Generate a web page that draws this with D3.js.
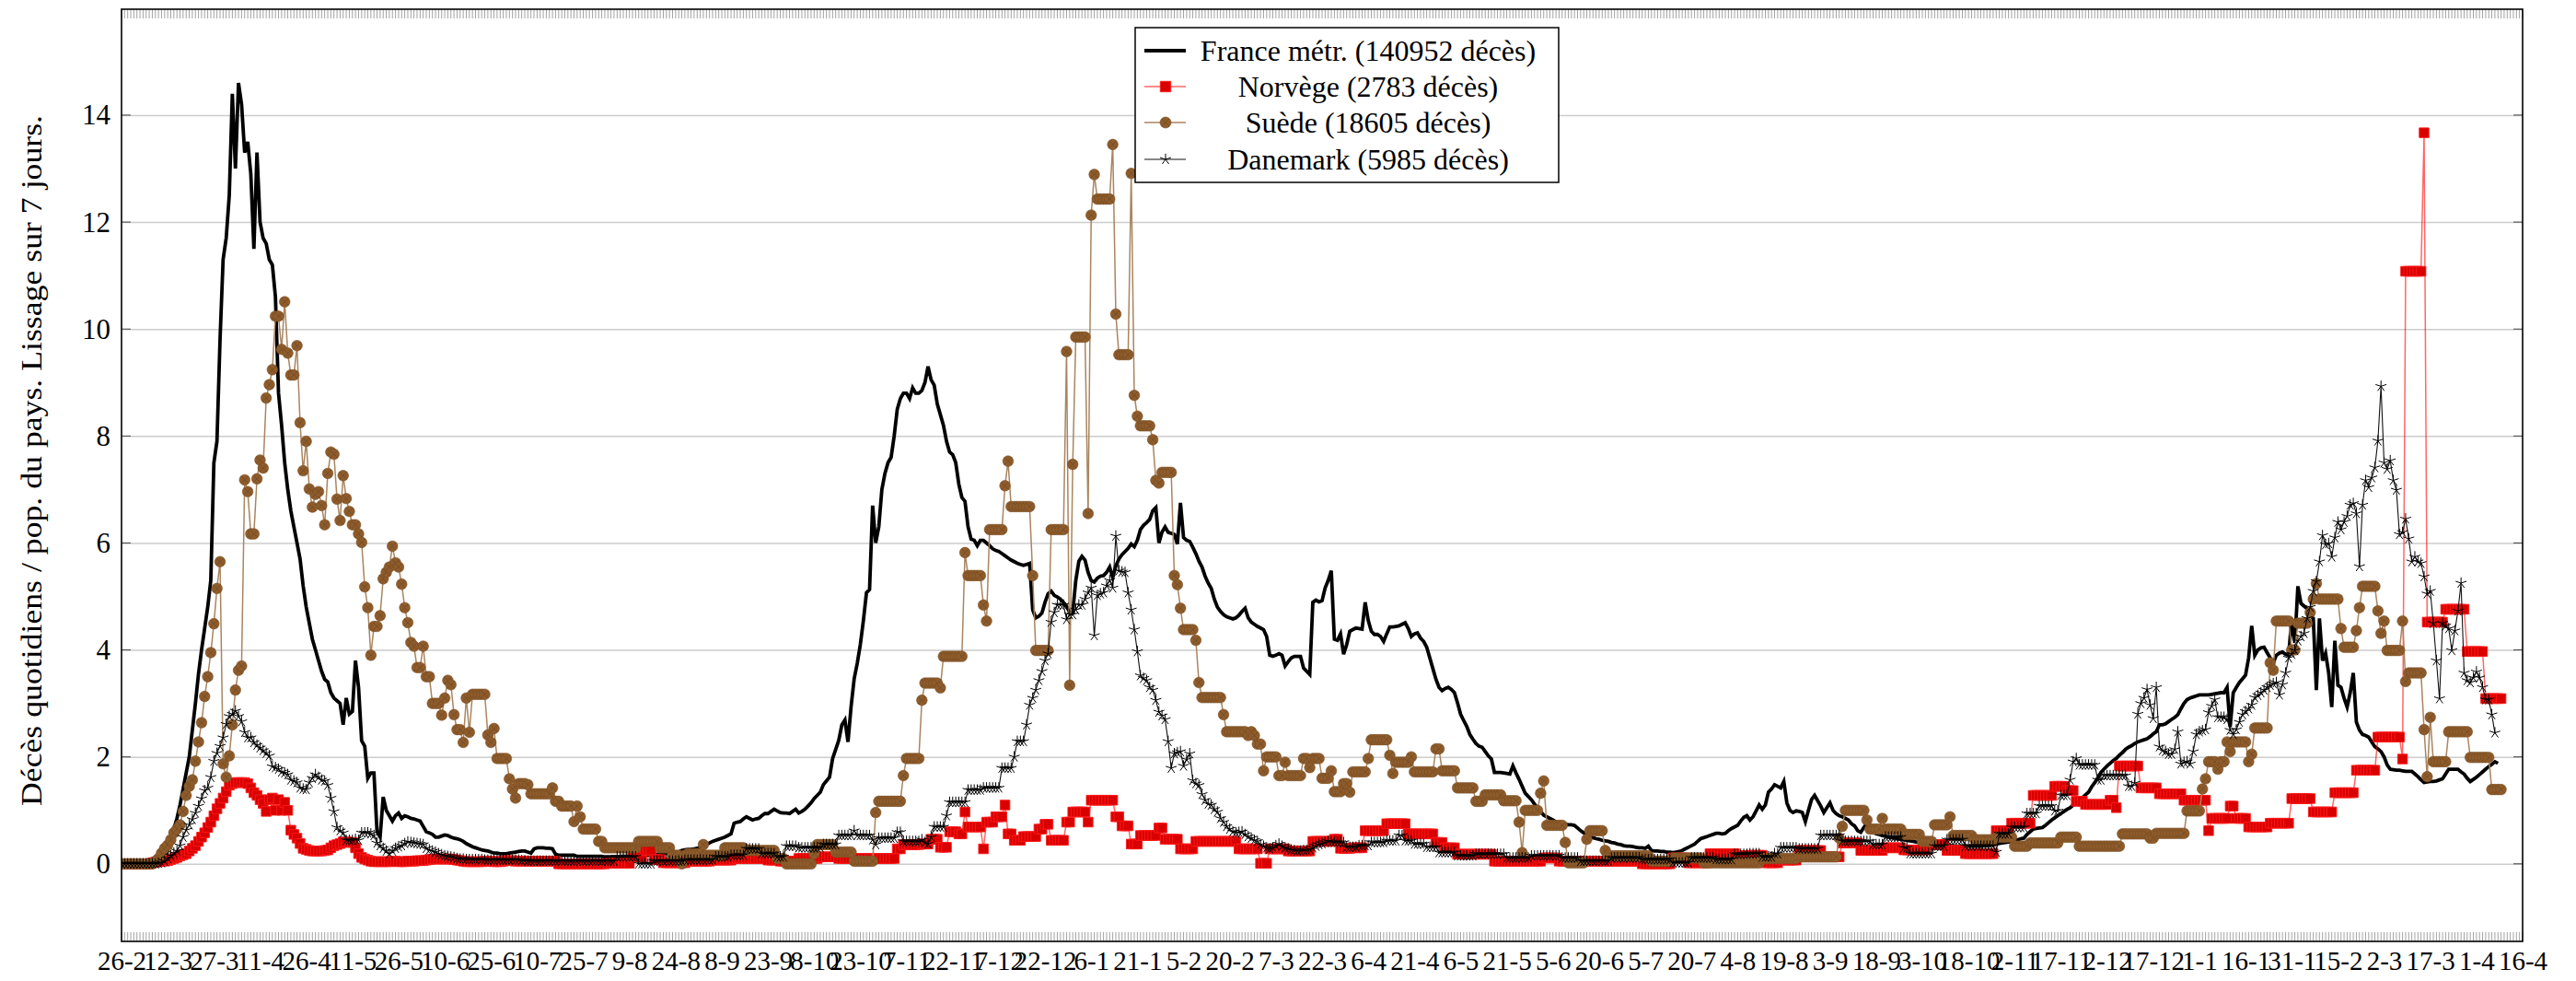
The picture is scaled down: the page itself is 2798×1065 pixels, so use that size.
<!DOCTYPE html>
<html>
<head>
<meta charset="utf-8">
<script src="https://cdn.jsdelivr.net/npm/d3@7"></script>
<style>
  html, body { margin: 0; padding: 0; background: #fff; }
  svg { display: block; font-family: "Liberation Serif", "Times New Roman", serif; }
</style>
</head>
<body>
<svg id="chart" width="2798" height="1065"></svg>
<script>
// x tick labels, one every 15 days starting 26-2-2020
const xLabels = ["26-2","12-3","27-3","11-4","26-4","11-5","26-5","10-6","25-6","10-7","25-7","9-8","24-8","8-9","23-9","8-10","23-10","7-11","22-11","7-12","22-12","6-1","21-1","5-2","20-2","7-3","22-3","6-4","21-4","6-5","21-5","5-6","20-6","5-7","20-7","4-8","19-8","3-9","18-9","3-10","18-10","2-11","17-11","2-12","17-12","1-1","16-1","31-1","15-2","2-3","17-3","1-4","16-4"];
const yTicks = [0, 2, 4, 6, 8, 10, 12, 14];

// daily deaths per million, 7-day smoothing, one value per day from 26-2-2020
const france = [
0,0,0,0,0,0,0,0.01,0.01,0.01,
0.01,0.02,0.03,0.05,0.08,0.25,0.45,0.65,0.85,1.1,
1.4,1.7,2.0,2.5,3.0,3.55,4.0,4.4,4.8,5.3,
7.5,7.9,9.8,11.3,11.7,12.5,14.4,13.0,14.6,14.2,
13.3,13.5,12.9,11.5,13.3,12.0,11.7,11.6,11.3,11.2,
10.6,8.8,8.2,7.5,7.0,6.6,6.3,6.0,5.7,5.2,
4.8,4.5,4.2,4.0,3.8,3.6,3.45,3.4,3.2,3.1,
3.05,3.0,2.6,3.1,2.8,2.85,3.8,3.3,2.3,2.2,
1.6,1.7,1.7,0.6,0.5,1.25,1.0,0.9,0.8,0.9,
0.95,0.85,0.9,0.88,0.85,0.84,0.82,0.8,0.7,0.6,
0.58,0.55,0.5,0.5,0.52,0.54,0.53,0.5,0.48,0.47,
0.45,0.42,0.38,0.35,0.32,0.3,0.28,0.26,0.25,0.24,
0.22,0.2,0.2,0.19,0.19,0.19,0.2,0.21,0.22,0.23,
0.24,0.24,0.22,0.2,0.28,0.3,0.3,0.3,0.29,0.29,
0.28,0.18,0.16,0.16,0.16,0.16,0.16,0.16,0.14,0.14,
0.14,0.14,0.14,0.14,0.14,0.14,0.14,0.13,0.13,0.13,
0.13,0.13,0.14,0.14,0.14,0.14,0.15,0.15,0.15,0.15,
0.16,0.16,0.17,0.17,0.18,0.18,0.19,0.19,0.2,0.21,
0.22,0.22,0.25,0.26,0.27,0.27,0.28,0.29,0.3,0.33,
0.36,0.39,0.42,0.44,0.46,0.48,0.5,0.53,0.56,0.76,
0.78,0.79,0.84,0.88,0.85,0.82,0.84,0.85,0.9,0.94,
0.94,0.98,1.02,0.99,0.96,0.95,0.95,0.94,0.98,1.02,
0.95,0.98,1.02,1.08,1.14,1.22,1.28,1.34,1.48,1.55,
1.62,1.97,2.14,2.31,2.6,2.69,2.28,2.94,3.46,3.75,
4.1,4.55,5.07,5.13,6.7,6.0,6.3,7.0,7.3,7.5,
7.6,8.0,8.5,8.7,8.8,8.8,8.7,8.9,8.8,8.8,
8.85,9.0,9.3,9.05,8.95,8.6,8.4,8.2,7.9,7.7,
7.65,7.5,7.1,6.85,6.78,6.3,6.07,6.05,5.95,6.05,
6.05,6.0,5.95,5.89,5.86,5.84,5.8,5.76,5.72,5.68,
5.65,5.62,5.6,5.58,5.6,5.62,4.75,4.6,4.63,4.69,
4.89,5.05,5.1,5.02,4.99,4.95,4.89,4.82,4.7,4.7,
5.3,5.66,5.75,5.68,5.45,5.3,5.27,5.34,5.38,5.39,
5.45,5.55,5.35,5.57,5.7,5.78,5.84,5.9,5.98,5.93,
6.05,6.25,6.33,6.38,6.44,6.6,6.66,6.0,6.2,6.3,
6.2,6.18,6.16,5.98,6.75,6.1,6.05,6.03,5.92,5.8,
5.66,5.55,5.38,5.25,5.15,4.95,4.8,4.72,4.66,4.62,
4.6,4.58,4.6,4.65,4.72,4.78,4.6,4.52,4.48,4.44,
4.41,4.38,4.25,3.9,3.88,3.9,3.93,3.9,3.7,3.78,
3.85,3.88,3.88,3.88,3.66,3.6,3.54,4.89,4.93,4.9,
4.92,5.16,5.3,5.48,4.2,4.18,4.3,3.92,4.1,4.35,
4.38,4.41,4.4,4.39,4.89,4.55,4.35,4.29,4.29,4.25,
4.16,4.3,4.43,4.43,4.44,4.45,4.48,4.51,4.4,4.25,
4.3,4.32,4.22,4.16,4.05,3.85,3.65,3.45,3.3,3.24,
3.28,3.3,3.26,3.2,3.01,2.8,2.68,2.57,2.42,2.33,
2.25,2.2,2.18,2.1,2.02,1.96,1.71,1.71,1.71,1.7,
1.69,1.68,1.83,1.7,1.58,1.45,1.32,1.26,1.2,1.12,
1.04,0.98,0.91,0.88,0.85,0.82,0.78,0.76,0.75,0.74,
0.73,0.73,0.72,0.67,0.62,0.58,0.54,0.5,0.49,0.47,
0.46,0.44,0.43,0.42,0.4,0.39,0.37,0.36,0.34,0.33,
0.33,0.32,0.31,0.3,0.3,0.29,0.33,0.25,0.24,0.24,
0.23,0.23,0.22,0.22,0.21,0.22,0.23,0.25,0.28,0.31,
0.34,0.37,0.42,0.47,0.49,0.51,0.53,0.55,0.57,0.57,
0.56,0.57,0.62,0.66,0.69,0.72,0.8,0.87,0.9,0.82,
0.88,0.99,1.1,1.02,1.1,1.34,1.4,1.48,1.45,1.42,
1.54,1.14,1.0,0.96,0.99,0.98,0.96,0.79,1.0,1.2,
1.28,1.18,1.08,0.96,1.05,1.14,1.0,0.94,0.9,0.88,
0.85,0.82,0.75,0.71,0.62,0.59,0.68,0.76,0.66,0.6,
0.56,0.55,0.53,0.52,0.5,0.49,0.48,0.47,0.46,0.45,
0.44,0.43,0.42,0.41,0.4,0.4,0.39,0.38,0.37,0.36,
0.36,0.35,0.35,0.34,0.34,0.34,0.33,0.33,0.33,0.33,
0.33,0.33,0.33,0.33,0.33,0.34,0.34,0.35,0.36,0.37,
0.38,0.39,0.4,0.41,0.42,0.44,0.45,0.47,0.48,0.55,
0.6,0.65,0.66,0.67,0.68,0.72,0.77,0.82,0.86,0.9,
0.94,0.98,1.02,1.05,1.1,1.15,1.19,1.24,1.29,1.34,
1.44,1.52,1.6,1.71,1.77,1.83,1.88,1.93,1.97,2.03,
2.08,2.14,2.18,2.21,2.25,2.28,2.3,2.32,2.34,2.38,
2.43,2.47,2.6,2.6,2.62,2.66,2.7,2.74,2.79,2.9,
3.0,3.07,3.1,3.12,3.14,3.16,3.16,3.16,3.16,3.17,
3.18,3.19,3.2,3.2,3.3,2.56,3.2,3.3,3.39,3.46,
3.53,3.85,4.45,3.9,4.0,4.04,4.05,3.95,3.85,3.76,
3.9,3.94,3.96,3.92,3.9,4.59,4.13,5.19,4.87,4.82,
4.77,4.65,4.59,3.25,4.59,3.8,3.94,3.57,2.93,4.17,
3.34,3.3,3.1,2.93,3.2,3.57,2.65,2.5,2.42,2.4,
2.37,2.28,2.19,2.15,2.1,2.0,1.85,1.77,1.76,1.75,
1.75,1.74,1.73,1.73,1.73,1.68,1.63,1.57,1.52,1.53,
1.54,1.54,1.55,1.57,1.59,1.68,1.77,1.77,1.77,1.77,
1.72,1.68,1.6,1.54,1.58,1.62,1.67,1.72,1.77,1.82,
1.86,1.91,1.88
];

const norvege = [
0,0,0,0,0,0,0,0,0,0,
0.02,0.03,0.04,0.05,0.05,0.06,0.08,0.1,0.12,0.15,
0.17,0.19,0.24,0.29,0.34,0.42,0.5,0.58,0.68,0.78,
0.9,1.03,1.13,1.23,1.35,1.47,1.5,1.52,1.52,1.52,
1.52,1.5,1.42,1.33,1.28,1.2,1.13,0.98,1.2,1.23,
1.0,1.2,1.0,1.15,1.0,0.63,0.55,0.48,0.38,0.29,
0.27,0.25,0.24,0.24,0.24,0.24,0.25,0.26,0.3,0.34,
0.36,0.38,0.41,0.41,0.4,0.4,0.3,0.19,0.12,0.09,
0.07,0.05,0.04,0.04,0.04,0.04,0.04,0.04,0.05,0.05,
0.04,0.04,0.04,0.05,0.05,0.05,0.06,0.06,0.06,0.07,
0.08,0.09,0.09,0.09,0.09,0.09,0.09,0.09,0.08,0.07,
0.06,0.05,0.04,0.04,0.04,0.04,0.04,0.04,0.05,0.05,
0.05,0.04,0.04,0.04,0.05,0.06,0.06,0.06,0.05,0.05,
0.05,0.05,0.05,0.05,0.05,0.05,0.05,0.05,0.05,0.05,
0.05,0.05,0,0,0,0,0,0,0,0,
0,0,0,0,0,0,0,0,0.01,0.01,
0.01,0.01,0.01,0.01,0.01,0.01,0.13,0.13,0.13,0.13,
0.25,0.25,0.25,0.08,0.08,0.08,0.02,0.02,0.02,0.02,
0.02,0.02,0.02,0.02,0.05,0.05,0.05,0.05,0.05,0.05,
0.05,0.05,0.07,0.07,0.07,0.07,0.07,0.07,0.07,0.1,
0.1,0.1,0.1,0.1,0.1,0.1,0.1,0.1,0.1,0.1,
0.07,0.07,0.07,0.07,0.05,0.05,0.05,0.05,0.05,0.05,
0.1,0.1,0.1,0.1,0.1,0.1,0.1,0.13,0.13,0.13,
0.13,0.13,0.13,0.1,0.1,0.1,0.1,0.1,0.1,0.1,
0.1,0.1,0.1,0.1,0.1,0.1,0.1,0.1,0.1,0.1,
0.1,0.1,0.28,0.28,0.36,0.36,0.36,0.36,0.36,0.36,
0.37,0.37,0.37,0.46,0.46,0.46,0.31,0.31,0.31,0.6,
0.6,0.6,0.56,0.56,0.97,0.69,0.69,0.69,0.69,0.69,
0.28,0.78,0.78,0.78,0.88,0.88,0.88,1.1,0.56,0.56,
0.44,0.44,0.44,0.51,0.51,0.51,0.51,0.51,0.65,0.65,
0.74,0.74,0.44,0.44,0.44,0.44,0.44,0.78,0.78,0.97,
0.97,0.97,0.97,0.97,0.78,1.19,1.19,1.19,1.19,1.19,
1.19,1.19,1.19,0.88,0.88,0.71,0.71,0.71,0.37,0.37,
0.37,0.53,0.53,0.53,0.53,0.53,0.53,0.67,0.67,0.46,
0.46,0.46,0.46,0.46,0.28,0.28,0.28,0.28,0.28,0.42,
0.42,0.42,0.42,0.42,0.42,0.42,0.42,0.42,0.42,0.42,
0.42,0.42,0.42,0.28,0.28,0.28,0.28,0.28,0.28,0.28,
0.01,0.01,0.01,0.28,0.28,0.28,0.28,0.28,0.28,0.24,
0.24,0.24,0.24,0.24,0.24,0.24,0.24,0.42,0.42,0.42,
0.42,0.42,0.42,0.42,0.46,0.46,0.29,0.29,0.29,0.29,
0.3,0.3,0.3,0.3,0.62,0.62,0.62,0.62,0.62,0.62,
0.62,0.75,0.75,0.75,0.75,0.75,0.75,0.75,0.56,0.56,
0.56,0.56,0.56,0.56,0.56,0.56,0.56,0.4,0.4,0.4,
0.3,0.3,0.3,0.3,0.18,0.18,0.18,0.18,0.18,0.18,
0.18,0.18,0.18,0.18,0.18,0.18,0.05,0.05,0.05,0.05,
0.05,0.05,0.05,0.05,0.05,0.05,0.05,0.05,0.05,0.05,
0.05,0.05,0.11,0.11,0.11,0.11,0.11,0.05,0.05,0.05,
0.05,0.05,0.05,0.05,0.05,0.05,0.05,0.05,0.05,0.05,
0.05,0.05,0.05,0.05,0.05,0.05,0.05,0.05,0.05,0.05,
0.05,0.05,0.05,0.05,0,0,0,0,0,0,
0,0,0,0,0.11,0.11,0.11,0.11,0.11,0.02,
0.02,0.02,0.02,0.02,0.02,0.02,0.19,0.19,0.19,0.19,
0.19,0.19,0.19,0.19,0.19,0.15,0.15,0.15,0.15,0.16,
0.16,0.16,0.16,0.16,0.02,0.02,0.02,0.02,0.02,0.07,
0.07,0.07,0.07,0.07,0.07,0.25,0.25,0.25,0.25,0.25,
0.25,0.25,0.25,0.13,0.13,0.13,0.13,0.13,0.13,0.39,
0.39,0.39,0.39,0.39,0.39,0.25,0.25,0.25,0.25,0.25,
0.25,0.25,0.25,0.3,0.3,0.3,0.3,0.3,0.3,0.26,
0.26,0.26,0.26,0.26,0.26,0.26,0.26,0.36,0.36,0.36,
0.36,0.36,0.36,0.25,0.25,0.25,0.25,0.25,0.25,0.19,
0.19,0.19,0.19,0.19,0.19,0.19,0.19,0.19,0.19,0.62,
0.62,0.62,0.62,0.62,0.76,0.76,0.76,0.76,0.76,0.76,
0.76,1.28,1.28,1.28,1.28,1.28,1.28,1.28,1.45,1.45,
1.45,1.45,1.37,1.37,1.37,1.17,1.17,1.17,1.11,1.11,
1.11,1.11,1.11,1.11,1.11,1.11,1.19,1.19,1.05,1.83,
1.83,1.83,1.83,1.83,1.83,1.83,1.42,1.42,1.42,1.42,
1.42,1.42,1.31,1.31,1.31,1.31,1.31,1.31,1.31,1.31,
1.19,1.19,1.19,1.19,1.19,1.19,1.19,1.19,0.62,0.85,
0.85,0.85,0.85,0.85,0.85,1.08,1.08,0.85,0.85,0.85,
0.85,0.69,0.69,0.69,0.69,0.69,0.69,0.69,0.76,0.76,
0.76,0.76,0.76,0.76,0.76,1.22,1.22,1.22,1.22,1.22,
1.22,1.22,0.97,0.97,0.97,0.97,0.97,0.97,0.97,1.33,
1.33,1.33,1.33,1.33,1.33,1.33,1.75,1.75,1.75,1.75,
1.75,1.75,1.75,2.37,2.37,2.37,2.37,2.37,2.37,2.37,
2.37,1.96,11.08,11.08,11.08,11.08,11.08,11.08,13.67,4.52,
4.52,4.52,4.52,4.52,4.52,4.76,4.76,4.76,4.76,4.76,
4.76,4.76,3.97,3.97,3.97,3.97,3.97,3.97,3.09,3.09,
3.09,3.09,3.09,3.09
];

const suede = [
0,0,0,0,0,0,0,0,0,0,
0,0.05,0.1,0.2,0.29,0.35,0.45,0.58,0.65,0.73,
0.98,1.28,1.45,1.57,1.92,2.28,2.64,3.13,3.5,3.95,
4.49,5.15,5.65,1.87,1.62,2.02,2.6,3.25,3.62,3.7,
7.18,6.96,6.17,6.17,7.2,7.55,7.4,8.71,8.96,9.24,
10.24,10.24,9.62,10.51,9.55,9.14,9.14,9.69,8.25,7.35,
7.9,7.01,6.67,6.91,6.96,6.7,6.34,7.3,7.7,7.66,
6.82,6.42,7.26,6.83,6.59,6.34,6.34,6.17,6.01,5.18,
4.79,3.9,4.44,4.44,4.64,5.33,5.45,5.55,5.94,5.63,
5.55,5.23,4.79,4.51,4.14,4.07,3.67,3.67,4.07,3.5,
3.5,3.0,3.0,3.0,2.78,3.1,3.43,3.35,2.79,2.51,
2.51,2.27,3.1,2.46,3.17,3.17,3.17,3.17,3.17,2.41,
2.27,2.53,1.97,1.97,1.97,1.97,1.59,1.4,1.23,1.5,
1.5,1.5,1.48,1.31,1.31,1.31,1.31,1.31,1.31,1.31,
1.42,1.17,1.17,1.08,1.08,1.08,1.08,0.79,1.08,0.88,
0.65,0.65,0.65,0.65,0.65,0.42,0.42,0.3,0.3,0.3,
0.3,0.3,0.3,0.3,0.3,0.3,0.3,0.3,0.42,0.42,
0.42,0.42,0.42,0.42,0.42,0.3,0.3,0.3,0.3,0.16,
0.16,0.16,0,0.16,0.19,0.19,0.19,0.19,0.19,0.36,
0.16,0.16,0.16,0.16,0.16,0.16,0.3,0.3,0.3,0.3,
0.3,0.3,0.3,0.25,0.25,0.25,0.25,0.25,0.25,0.25,
0.25,0.25,0.25,0.1,0.1,0.1,0,0,0,0,
0,0,0,0,0,0.19,0.36,0.36,0.36,0.36,
0.36,0.36,0.22,0.22,0.22,0.22,0.22,0.22,0.05,0.05,
0.05,0.05,0.05,0.05,0.05,0.96,1.17,1.17,1.17,1.17,
1.17,1.17,1.17,1.17,1.65,1.97,1.97,1.97,1.97,1.97,
3.06,3.38,3.38,3.38,3.38,3.38,3.29,3.88,3.88,3.88,
3.88,3.88,3.88,3.88,5.82,5.39,5.39,5.39,5.39,5.39,
4.84,4.54,6.25,6.25,6.25,6.25,6.25,7.07,7.53,6.68,
6.68,6.68,6.68,6.68,6.68,6.68,5.39,3.99,3.99,3.99,
3.99,3.99,6.25,6.25,6.25,6.25,6.25,9.58,3.34,7.47,
9.85,9.85,9.85,9.85,6.55,12.13,12.89,12.43,12.43,12.43,
12.43,12.43,13.45,10.28,9.52,9.52,9.52,9.52,12.91,8.76,
8.37,8.19,8.19,8.19,8.19,7.93,7.17,7.12,7.32,7.32,
7.32,7.32,5.39,5.22,4.78,4.38,4.38,4.38,4.38,4.18,
3.39,3.11,3.11,3.11,3.11,3.11,3.11,3.11,2.79,2.47,
2.47,2.47,2.47,2.47,2.47,2.47,2.4,2.47,2.4,2.24,
2.24,1.74,2.0,2.0,2.0,2.0,1.65,1.65,1.9,1.65,
1.65,1.65,1.65,1.65,1.97,1.97,1.8,1.97,1.97,1.97,
1.6,1.6,1.6,1.74,1.35,1.35,1.35,1.5,1.5,1.34,
1.72,1.72,1.72,1.72,1.72,1.97,2.32,2.32,2.32,2.32,
2.32,2.32,2.03,1.69,1.9,1.9,1.9,1.9,1.9,2.0,
1.72,1.72,1.72,1.72,1.72,1.72,1.72,2.15,2.15,1.74,
1.74,1.74,1.74,1.74,1.42,1.42,1.42,1.42,1.42,1.42,
1.17,1.17,1.17,1.29,1.29,1.29,1.29,1.29,1.29,1.18,
1.18,1.18,1.18,1.18,0.78,0.21,1.0,1.0,1.0,1.0,
1.0,1.32,1.55,0.72,0.72,0.72,0.72,0.72,0.72,0.4,
0.02,0.02,0.02,0.02,0.02,0.02,0.46,0.62,0.62,0.62,
0.62,0.62,0.25,0.15,0.15,0.15,0.15,0.15,0.15,0.15,
0.15,0.15,0.15,0.15,0.15,0.15,0.15,0.05,0.05,0.05,
0.05,0.05,0.05,0.05,0.11,0.11,0.11,0.11,0.11,0.11,
0.11,0.11,0.11,0.11,0.02,0.02,0.02,0.02,0.02,0.02,
0.02,0.02,0.02,0.02,0.02,0.02,0.02,0.02,0.02,0.02,
0.02,0.02,0.02,0.1,0.1,0.1,0.1,0.1,0.1,0.1,
0.1,0.1,0.1,0.1,0.1,0.13,0.13,0.13,0.13,0.13,
0.13,0.13,0.13,0.13,0.13,0.13,0.13,0.13,0.48,0.7,
1.0,1.0,1.0,1.0,1.0,1.0,1.0,0.82,0.65,0.65,
0.65,0.65,0.85,0.65,0.65,0.65,0.65,0.65,0.65,0.55,
0.55,0.55,0.55,0.55,0.55,0.42,0.42,0.42,0.42,0.73,
0.73,0.73,0.73,0.73,0.88,0.53,0.53,0.53,0.53,0.53,
0.53,0.53,0.45,0.45,0.45,0.45,0.45,0.45,0.45,0.5,
0.5,0.5,0.5,0.5,0.5,0.33,0.33,0.33,0.33,0.33,
0.39,0.39,0.39,0.39,0.39,0.39,0.39,0.39,0.39,0.39,
0.5,0.5,0.5,0.5,0.5,0.5,0.33,0.33,0.33,0.33,
0.33,0.33,0.33,0.33,0.33,0.33,0.33,0.33,0.33,0.33,
0.56,0.56,0.56,0.56,0.56,0.56,0.56,0.56,0.56,0.48,
0.48,0.57,0.57,0.57,0.57,0.57,0.57,0.57,0.57,0.57,
0.57,0.99,0.99,0.99,0.99,0.99,1.4,1.59,1.91,1.91,
1.91,1.77,1.91,1.91,2.28,2.1,2.28,2.28,2.28,2.28,
2.28,1.91,2.05,2.54,2.54,2.54,2.54,2.54,3.76,3.62,
4.54,4.54,4.54,4.54,4.54,4.0,4.0,4.5,4.5,4.5,
4.5,4.7,4.95,5.24,4.95,4.95,4.95,4.95,4.95,4.95,
4.95,4.4,4.05,4.05,4.05,4.05,4.36,4.79,5.19,5.19,
5.19,5.19,5.19,4.73,4.31,4.54,3.99,3.99,3.99,3.99,
3.99,4.54,3.41,3.57,3.57,3.57,3.57,3.57,2.51,1.63,
2.74,1.91,1.91,1.91,1.91,1.91,2.47,2.47,2.47,2.47,
2.47,2.47,2.47,1.99,1.99,1.99,1.99,1.99,1.99,1.99,
1.39,1.39,1.39,1.39
];

const danemark = [
0,0,0,0,0,0,0,0,0,0,
0,0,0.01,0.02,0.05,0.1,0.15,0.2,0.24,0.34,
0.5,0.63,0.73,0.83,0.95,1.08,1.22,1.37,1.42,1.62,
1.92,2.07,2.2,2.36,2.61,2.76,2.8,2.86,2.76,2.66,
2.46,2.36,2.36,2.27,2.22,2.17,2.12,2.07,2.02,1.82,
1.8,1.77,1.72,1.7,1.67,1.57,1.55,1.52,1.42,1.4,
1.39,1.52,1.6,1.67,1.62,1.57,1.55,1.47,1.23,0.98,
0.68,0.62,0.58,0.44,0.44,0.44,0.46,0.44,0.58,0.58,
0.58,0.56,0.53,0.39,0.34,0.29,0.24,0.19,0.24,0.29,
0.32,0.34,0.38,0.41,0.4,0.39,0.38,0.37,0.36,0.29,
0.26,0.24,0.22,0.19,0.17,0.15,0.14,0.13,0.12,0.1,
0.09,0.09,0.08,0.08,0.08,0.08,0.08,0.08,0.07,0.07,
0.07,0.07,0.07,0.07,0.07,0.07,0.07,0.07,0.07,0.07,
0.06,0.06,0.05,0.05,0.05,0.05,0.05,0.05,0.05,0.05,
0.05,0.05,0.05,0.05,0.05,0.05,0.05,0.05,0.05,0.05,
0.05,0.05,0.05,0.05,0.05,0.05,0.05,0.05,0.05,0.05,
0.05,0.13,0.13,0.13,0.13,0.13,0.13,0.13,0,0,
0,0,0,0.05,0.05,0.05,0.05,0.05,0.05,0.05,
0.05,0.05,0.05,0.07,0.07,0.07,0.07,0.07,0.07,0.07,
0.07,0.07,0.07,0.13,0.13,0.13,0.13,0.13,0.16,0.16,
0.16,0.16,0.16,0.28,0.28,0.28,0.28,0.28,0.19,0.19,
0.19,0.19,0.19,0.13,0.13,0.13,0.33,0.33,0.33,0.33,
0.3,0.3,0.3,0.3,0.3,0.3,0.3,0.3,0.36,0.36,
0.36,0.36,0.36,0.53,0.53,0.53,0.53,0.53,0.62,0.53,
0.53,0.53,0.53,0.53,0.45,0.36,0.48,0.48,0.48,0.48,
0.48,0.48,0.59,0.59,0.42,0.42,0.42,0.42,0.42,0.42,
0.45,0.4,0.37,0.5,0.69,0.69,0.69,0.69,0.9,1.15,
1.15,1.15,1.15,1.15,1.15,1.38,1.38,1.38,1.38,1.38,
1.42,1.42,1.42,1.42,1.42,1.42,1.79,1.79,1.79,1.79,
2.0,2.29,2.29,2.29,2.6,2.97,3.1,3.25,3.43,3.6,
3.8,3.93,4.52,4.7,4.84,4.84,4.84,4.57,4.66,4.66,
4.75,4.84,4.84,4.95,5.07,5.16,4.27,5.02,5.05,5.07,
5.2,5.3,5.16,6.13,5.48,5.46,5.45,5.07,4.75,4.38,
3.97,3.52,3.47,3.43,3.3,3.25,3.06,2.84,2.77,2.7,
2.29,1.79,2.06,2.08,2.1,1.83,1.95,2.06,1.56,1.5,
1.47,1.3,1.19,1.12,1.1,1.02,0.97,0.85,0.78,0.7,
0.65,0.6,0.58,0.59,0.6,0.55,0.51,0.48,0.44,0.42,
0.36,0.33,0.3,0.28,0.3,0.34,0.37,0.33,0.3,0.28,
0.26,0.25,0.24,0.24,0.25,0.25,0.27,0.3,0.33,0.36,
0.38,0.4,0.42,0.41,0.4,0.4,0.4,0.4,0.31,0.31,
0.31,0.31,0.34,0.34,0.34,0.34,0.4,0.4,0.4,0.4,
0.4,0.43,0.43,0.43,0.43,0.53,0.53,0.43,0.43,0.43,
0.37,0.37,0.37,0.37,0.31,0.31,0.31,0.31,0.21,0.21,
0.21,0.21,0.21,0.21,0.15,0.15,0.15,0.15,0.15,0.15,
0.18,0.18,0.18,0.18,0.18,0.18,0.18,0.18,0.18,0.18,
0.11,0.11,0.11,0.11,0.11,0.11,0.11,0.11,0.15,0.15,
0.15,0.15,0.15,0.15,0.15,0.15,0.15,0.15,0.11,0.11,
0.11,0.11,0.11,0.11,0.05,0.05,0.05,0.05,0.05,0.05,
0.05,0.05,0.05,0.05,0.11,0.11,0.11,0.11,0.11,0.11,
0.11,0.11,0.11,0.11,0.08,0.08,0.08,0.08,0.08,0.08,
0.08,0.08,0.08,0.08,0.02,0.02,0.02,0.02,0.02,0.02,
0.11,0.11,0.11,0.11,0.11,0.11,0.11,0.11,0.08,0.08,
0.08,0.08,0.08,0.08,0.18,0.18,0.18,0.18,0.18,0.19,
0.19,0.19,0.19,0.13,0.13,0.13,0.13,0.19,0.19,0.3,
0.3,0.3,0.3,0.3,0.3,0.28,0.28,0.28,0.28,0.28,
0.28,0.28,0.53,0.53,0.53,0.53,0.53,0.53,0.53,0.42,
0.42,0.42,0.42,0.42,0.42,0.42,0.42,0.42,0.42,0.36,
0.36,0.36,0.36,0.5,0.5,0.5,0.5,0.5,0.5,0.3,
0.3,0.19,0.19,0.19,0.19,0.19,0.19,0.19,0.19,0.33,
0.33,0.33,0.33,0.45,0.45,0.45,0.45,0.45,0.45,0.33,
0.33,0.33,0.33,0.33,0.33,0.33,0.33,0.33,0.33,0.22,
0.56,0.56,0.56,0.56,0.68,0.68,0.68,0.68,0.68,0.94,
0.94,0.94,0.94,1.08,1.08,1.08,1.08,1.08,0.99,0.99,
1.28,1.28,1.28,1.57,1.91,1.97,1.85,1.85,1.85,1.85,
1.85,1.85,1.57,1.57,1.65,1.65,1.65,1.65,1.65,1.65,
1.65,1.65,1.45,1.45,1.51,2.8,3.0,3.1,3.26,2.97,
2.72,3.3,2.19,2.12,2.1,2.05,2.05,2.14,2.47,1.87,
1.9,1.91,1.87,2.1,2.42,2.47,2.49,2.51,2.83,2.95,
3.07,2.74,2.74,2.74,2.7,2.5,2.42,2.51,2.65,2.79,
2.85,2.9,2.97,3.11,3.15,3.2,3.25,3.3,3.34,3.37,
3.39,3.16,3.35,3.57,3.85,3.92,3.99,4.17,4.25,4.31,
4.59,4.8,5.1,5.28,5.65,6.14,5.97,5.99,5.74,6.1,
6.39,6.25,6.39,6.5,6.71,6.74,6.55,5.56,6.71,7.17,
7.04,7.22,7.41,7.91,8.93,7.5,7.38,7.54,7.17,6.99,
6.16,6.2,6.45,6.08,5.65,5.74,5.65,5.62,5.37,5.05,
5.1,4.5,3.8,3.09,4.5,4.45,4.4,3.99,4.36,4.73,
5.25,3.57,3.43,3.39,3.48,3.59,3.48,3.3,3.07,3.07,
2.79,2.45
];

const seriesNames = ["France métr. (140952 décès)", "Norvège (2783 décès)", "Suède (18605 décès)", "Danemark (5985 décès)"];

const plotLeft = 132, plotRight = 2740, plotTop = 10, plotBottom = 1022;

const svg = d3.select("#chart");

const x = d3.scaleLinear().domain([0, 780]).range([plotLeft, plotRight]);
const y = d3.scaleLinear().domain([-1.45, 15.98]).range([plotBottom, plotTop]);

// horizontal grid
svg.append("g")
  .attr("transform", `translate(${plotLeft},0)`)
  .call(d3.axisLeft(y).tickValues(yTicks).tickSize(-(plotRight - plotLeft)).tickFormat(""))
  .call(g => g.select(".domain").remove())
  .call(g => g.selectAll("line").attr("stroke", "#cccccc").attr("stroke-width", 1.5));

// daily tick marks along top and bottom edges
const days = d3.range(0, 781);
svg.append("g").selectAll("line").data(days).join("line")
  .attr("x1", d => x(d)).attr("x2", d => x(d))
  .attr("y1", plotBottom).attr("y2", plotBottom - 10)
  .attr("stroke", "#8a8a8a").attr("stroke-width", 0.8);
svg.append("g").selectAll("line").data(days).join("line")
  .attr("x1", d => x(d)).attr("x2", d => x(d))
  .attr("y1", plotTop).attr("y2", plotTop + 10)
  .attr("stroke", "#8a8a8a").attr("stroke-width", 0.8);

// y tick marks inside, left and right
svg.append("g").selectAll("line").data(yTicks).join("line")
  .attr("x1", plotLeft).attr("x2", plotLeft + 10)
  .attr("y1", d => y(d)).attr("y2", d => y(d))
  .attr("stroke", "#444").attr("stroke-width", 1);
svg.append("g").selectAll("line").data(yTicks).join("line")
  .attr("x1", plotRight - 10).attr("x2", plotRight)
  .attr("y1", d => y(d)).attr("y2", d => y(d))
  .attr("stroke", "#444").attr("stroke-width", 1);

// clip for data
svg.append("defs").append("clipPath").attr("id", "plotclip")
  .append("rect").attr("x", plotLeft).attr("y", plotTop)
  .attr("width", plotRight - plotLeft).attr("height", plotBottom - plotTop);

const plot = svg.append("g").attr("clip-path", "url(#plotclip)");

const line = d3.line().x((d, i) => x(i)).y(d => y(d));

// mark shapes
const squarePath = d3.symbol(d3.symbolSquare, 110)();
const starPath = d3.range(5).map(k => {
  const a = (-90 + 72 * k) * Math.PI / 180;
  return `M0,0L${(6.2 * Math.cos(a)).toFixed(2)},${(6.2 * Math.sin(a)).toFixed(2)}`;
}).join("");
const crossPath = "M-4,-4L4,4M-4,4L4,-4";

// France
plot.append("path").datum(france)
  .attr("fill", "none").attr("stroke", "#000").attr("stroke-width", 3.8)
  .attr("stroke-linejoin", "miter").attr("d", line);

// Norway
plot.append("path").datum(norvege)
  .attr("fill", "none").attr("stroke", "#ff0000").attr("stroke-opacity", 0.6)
  .attr("stroke-width", 1.5).attr("d", line);
plot.append("g").selectAll("path").data(norvege).join("path")
  .attr("transform", (d, i) => `translate(${x(i)},${y(d)})`)
  .attr("d", squarePath)
  .attr("fill", "#d90000").attr("stroke", "#ff1a1a").attr("stroke-width", 0.9);

// Sweden
plot.append("path").datum(suede)
  .attr("fill", "none").attr("stroke", "#a9855f")
  .attr("stroke-width", 1.5).attr("d", line);
const sMarks = plot.append("g").selectAll("g").data(suede).join("g")
  .attr("transform", (d, i) => `translate(${x(i)},${y(d)})`);
sMarks.append("circle").attr("r", 5.8)
  .attr("fill", "#8e5c2c").attr("stroke", "#7a4d22").attr("stroke-width", 0.6);
sMarks.append("path").attr("d", crossPath)
  .attr("stroke", "#6a4119").attr("stroke-width", 0.6);

// Denmark
plot.append("path").datum(danemark)
  .attr("fill", "none").attr("stroke", "#111")
  .attr("stroke-width", 1.1).attr("d", line);
plot.append("g").selectAll("path").data(danemark).join("path")
  .attr("transform", (d, i) => `translate(${x(i)},${y(d)})`)
  .attr("d", starPath)
  .attr("fill", "none").attr("stroke", "#000").attr("stroke-width", 1);

// frame
svg.append("rect")
  .attr("x", plotLeft).attr("y", plotTop)
  .attr("width", plotRight - plotLeft).attr("height", plotBottom - plotTop)
  .attr("fill", "none").attr("stroke", "#000").attr("stroke-width", 1.6);

// y axis labels
svg.append("g")
  .attr("transform", `translate(${plotLeft},0)`)
  .call(d3.axisLeft(y).tickValues(yTicks).tickSize(0).tickPadding(12).tickFormat(d3.format("d")))
  .call(g => g.select(".domain").remove())
  .call(g => g.selectAll("text")
    .attr("font-family", "Liberation Serif, serif")
    .attr("font-size", 31).attr("fill", "#000"));

// x axis labels (they run into each other in the original as well)
svg.append("g")
  .attr("transform", `translate(0,${plotBottom})`)
  .call(d3.axisBottom(x).tickValues(d3.range(0, 781, 15)).tickSize(0).tickPadding(10)
    .tickFormat((d, i) => xLabels[i]))
  .call(g => g.select(".domain").remove())
  .call(g => g.selectAll("text")
    .attr("font-family", "Liberation Serif, serif")
    .attr("font-size", 29).attr("fill", "#000"));

// y axis title
svg.append("text")
  .attr("transform", "translate(45,500) rotate(-90)")
  .attr("text-anchor", "middle")
  .attr("font-size", 32)
  .attr("textLength", 750).attr("lengthAdjust", "spacingAndGlyphs")
  .text("Décès quotidiens / pop. du pays. Lissage sur 7 jours.");

// legend
const lg = svg.append("g");
lg.append("rect").attr("x", 1233).attr("y", 30).attr("width", 460).attr("height", 168)
  .attr("fill", "#fff").attr("stroke", "#000").attr("stroke-width", 1.5);
const rowY = [55, 94, 133, 173];
const symX0 = 1243, symX1 = 1288, symC = 1266, textC = 1486;

lg.append("line").attr("x1", symX0).attr("x2", symX1).attr("y1", rowY[0]).attr("y2", rowY[0])
  .attr("stroke", "#000").attr("stroke-width", 3.8);

lg.append("line").attr("x1", symX0).attr("x2", symX1).attr("y1", rowY[1]).attr("y2", rowY[1])
  .attr("stroke", "#ff0000").attr("stroke-opacity", 0.6).attr("stroke-width", 1.5);
lg.append("path").attr("transform", `translate(${symC},${rowY[1]})`).attr("d", d3.symbol(d3.symbolSquare, 130)())
  .attr("fill", "#d90000").attr("stroke", "#ff1a1a").attr("stroke-width", 0.9);

lg.append("line").attr("x1", symX0).attr("x2", symX1).attr("y1", rowY[2]).attr("y2", rowY[2])
  .attr("stroke", "#a9855f").attr("stroke-width", 1.5);
lg.append("circle").attr("cx", symC).attr("cy", rowY[2]).attr("r", 6)
  .attr("fill", "#8e5c2c").attr("stroke", "#7a4d22").attr("stroke-width", 0.6);
lg.append("path").attr("transform", `translate(${symC},${rowY[2]})`).attr("d", crossPath)
  .attr("stroke", "#6a4119").attr("stroke-width", 0.6);

lg.append("line").attr("x1", symX0).attr("x2", symX1).attr("y1", rowY[3]).attr("y2", rowY[3])
  .attr("stroke", "#111").attr("stroke-width", 1.1);
lg.append("path").attr("transform", `translate(${symC},${rowY[3]})`).attr("d", starPath)
  .attr("fill", "none").attr("stroke", "#000").attr("stroke-width", 1);

lg.selectAll("text.leg").data(seriesNames).join("text")
  .attr("class", "leg")
  .attr("x", textC).attr("y", (d, i) => rowY[i])
  .attr("dy", "0.35em").attr("text-anchor", "middle")
  .attr("font-size", 32).attr("fill", "#000")
  .text(d => d);
</script>
</body>
</html>
